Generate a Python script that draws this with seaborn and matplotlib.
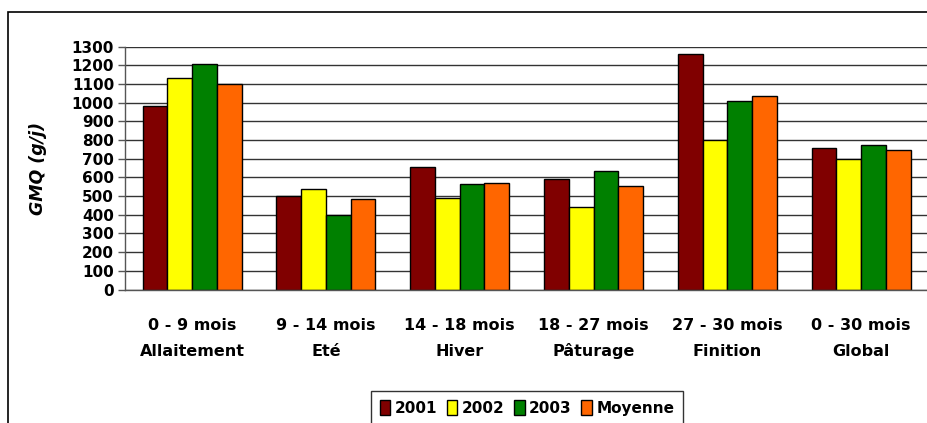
import matplotlib
matplotlib.use("Agg")
import matplotlib.pyplot as plt
import matplotlib.patches as mpatches
import matplotlib.transforms as mtransforms
import seaborn as sns
import pandas as pd
import numpy as np

periods = ["0 - 9 mois", "9 - 14 mois", "14 - 18 mois", "18 - 27 mois", "27 - 30 mois", "0 - 30 mois"]
phases = ["Allaitement", "Eté", "Hiver", "Pâturage", "Finition", "Global"]
series_names = ["2001", "2002", "2003", "Moyenne"]
v2001 = [980, 500, 655, 590, 1260, 755]
v2002 = [1130, 540, 490, 440, 800, 700]
v2003 = [1210, 400, 565, 635, 1010, 775]
vmoy = [1100, 485, 570, 555, 1035, 745]
colors = ["#800000", "#FFFF00", "#008000", "#FF6600"]
yticks = list(range(0, 1301, 100))

categories = [f"{p}\n{h}" for p, h in zip(periods, phases)]
rows = []
for name, vals in zip(series_names, [v2001, v2002, v2003, vmoy]):
    for c, v in zip(categories, vals):
        rows.append({"cat": c, "serie": name, "val": v})
df = pd.DataFrame(rows)

sns.set_theme(style="white")
plt.rcParams["font.family"] = ["DejaVu Sans"]
plt.rcParams["text.color"] = "black"
plt.rcParams["axes.labelcolor"] = "black"
plt.rcParams["xtick.color"] = "black"
plt.rcParams["ytick.color"] = "black"

fig = plt.figure(figsize=(9.28, 4.23), dpi=100)
ax = fig.add_axes([0.135, 0.3156, 0.865, 0.574])

sns.barplot(data=df, x="cat", y="val", hue="serie", order=categories,
            hue_order=series_names, palette=colors, edgecolor="black",
            linewidth=1.0, width=0.74, gap=0, ax=ax, legend=False, errorbar=None,
            saturation=1)

ax.set_ylim(0, 1300)
ax.set_xlim(-0.5, 5.5)
ax.set_yticks(yticks)
ax.set_yticklabels([str(t) for t in yticks], fontsize=11, fontweight="bold")
ax.yaxis.grid(True, color="#333333", linewidth=1.0)
ax.set_axisbelow(True)

ax.set_xticks(range(len(categories)))
ax.set_xticklabels([])
ax.tick_params(axis="x", which="major", length=0)
ax.set_xticks(np.arange(-0.5, 6.0, 1.0), minor=True)
ax.tick_params(axis="x", which="minor", length=5, color="#555555", width=1, direction="out")
ax.tick_params(axis="y", length=5, color="#555555", width=1, direction="out", left=True,
               pad=3, labelcolor="black")

# two-line category labels, baselines aligned
trans = mtransforms.blended_transform_factory(ax.transData, fig.transFigure)
for i, (p, h) in enumerate(zip(periods, phases)):
    ax.text(i, 1 - 330 / 423, p, transform=trans, ha="center", va="baseline",
            fontsize=11.5, fontweight="bold", color="black", clip_on=False)
    ax.text(i, 1 - 356 / 423, h, transform=trans, ha="center", va="baseline",
            fontsize=11.5, fontweight="bold", color="black", clip_on=False)

ax.set_xlabel("")
ax.set_ylabel("GMQ (g/j)", fontsize=12.5, fontweight="bold", fontstyle="italic", color="black")
ax.yaxis.set_label_coords(-0.0975, 0.5)

for s in ["top", "right"]:
    ax.spines[s].set_visible(False)
ax.spines["left"].set_color("#555555")
ax.spines["bottom"].set_color("#555555")
ax.spines["left"].set_linewidth(1)
ax.spines["bottom"].set_linewidth(1)

# outer chart frame
frame = mpatches.Rectangle((7.5 / 928, -0.1), 1.2, 1 - 12 / 423 + 0.1,
                           transform=fig.transFigure, fill=False,
                           edgecolor="black", linewidth=1.2)
fig.add_artist(frame)

handles = [mpatches.Patch(facecolor=c, edgecolor="black", linewidth=1, label=n)
           for c, n in zip(colors, series_names)]
leg = fig.legend(handles=handles, loc="center", bbox_to_anchor=(527 / 928, 1 - 408 / 423),
                 ncol=4, frameon=True, fancybox=False, edgecolor="black",
                 handlelength=0.7, handleheight=1.1, handletextpad=0.3, columnspacing=0.6,
                 prop={"weight": "bold", "size": 11}, borderpad=0.6)
leg.get_frame().set_linewidth(1)
for t in leg.get_texts():
    t.set_color("black")

fig.savefig("out.png", dpi=100)
